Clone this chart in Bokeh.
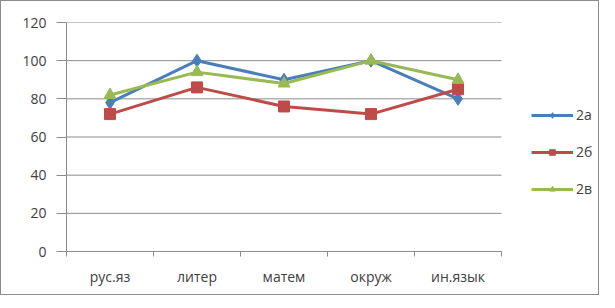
from bokeh.plotting import figure
from bokeh.models import Range1d, Legend, LegendItem, FixedTicker
from bokeh.embed import file_html
from bokeh.resources import INLINE

categories = ["рус.яз", "литер", "матем", "окруж", "ин.язык"]
s_2a = [78, 100, 90, 100, 80]
s_2b = [72, 86, 76, 72, 85]
s_2v = [82, 94, 88, 100, 90]
series_names = ["2а", "2б", "2в"]
y_ticks = [0, 20, 40, 60, 80, 100, 120]

FONT = "Open Sans"
TXT = "#404040"
GRID = "#8c8c8c"

n = len(categories)
x_pos = [i + 0.5 for i in range(n)]
bounds_x = list(range(n + 1))

W, H = 599, 295
LEFT, TOP, BOTTOM = 65, 21, 45
CAT_PX = 87
frame_w = W - LEFT

p = figure(width=W, height=H, x_range=Range1d(0, frame_w / CAT_PX),
           y_range=Range1d(0, 120), output_backend="svg", toolbar_location=None,
           min_border_left=LEFT, min_border_right=0, min_border_top=TOP, min_border_bottom=BOTTOM)
p.styles = {"border": "1px solid #8c8c8c"}
p.outline_line_color = None
p.background_fill_color = "white"
p.border_fill_color = "white"

p.xgrid.grid_line_color = None
p.ygrid.grid_line_color = None
# horizontal gridlines limited to the category area
p.segment(x0=[0] * len(y_ticks), x1=[n] * len(y_ticks), y0=y_ticks, y1=y_ticks,
          line_color=GRID, line_width=1, level="underlay")

p.yaxis.ticker = FixedTicker(ticks=y_ticks)
p.yaxis.axis_line_color = GRID
p.yaxis.major_tick_line_color = GRID
p.yaxis.major_tick_out = 10
p.yaxis.major_tick_in = 0
p.yaxis.minor_tick_line_color = None
p.yaxis.major_label_text_font = FONT
p.yaxis.major_label_text_font_size = "14px"
p.yaxis.major_label_text_color = TXT
p.yaxis.major_label_standoff = 10

p.xaxis.ticker = FixedTicker(ticks=x_pos, minor_ticks=bounds_x)
p.xaxis.bounds = (0, n)
p.xaxis.major_label_overrides = {x: c for x, c in zip(x_pos, categories)}
p.xaxis.axis_line_color = GRID
p.xaxis.major_tick_line_color = None
p.xaxis.major_tick_out = 0
p.xaxis.major_tick_in = 0
p.xaxis.minor_tick_line_color = GRID
p.xaxis.minor_tick_out = 5
p.xaxis.minor_tick_in = 0
p.xaxis.major_label_text_font = FONT
p.xaxis.major_label_text_font_size = "14px"
p.xaxis.major_label_text_color = TXT
p.xaxis.major_label_standoff = 10

colors = ["#4A7EBB", "#BE4B48", "#98B954"]
markers = ["diamond", "square", "triangle"]
sizes = [13, 11, 12]
data = [s_2a, s_2b, s_2v]
items = []
for name, vals, col, mk, sz in zip(series_names, data, colors, markers, sizes):
    r_line = p.line(x_pos, vals, line_color=col, line_width=3)
    r_m = p.scatter(x_pos, vals, marker=mk, size=sz, fill_color=col, line_color=col)
    items.append(LegendItem(label=name, renderers=[r_line, r_m]))

legend = Legend(items=items, location=(465, 53), orientation="vertical",
                label_text_font=FONT, label_text_font_size="14px", label_text_color=TXT,
                glyph_width=42, glyph_height=14, label_height=14, spacing=18, padding=0, margin=0,
                border_line_color=None, background_fill_alpha=0, label_standoff=3)
p.add_layout(legend, "center")

open("out.html", "w").write(file_html(p, INLINE))
